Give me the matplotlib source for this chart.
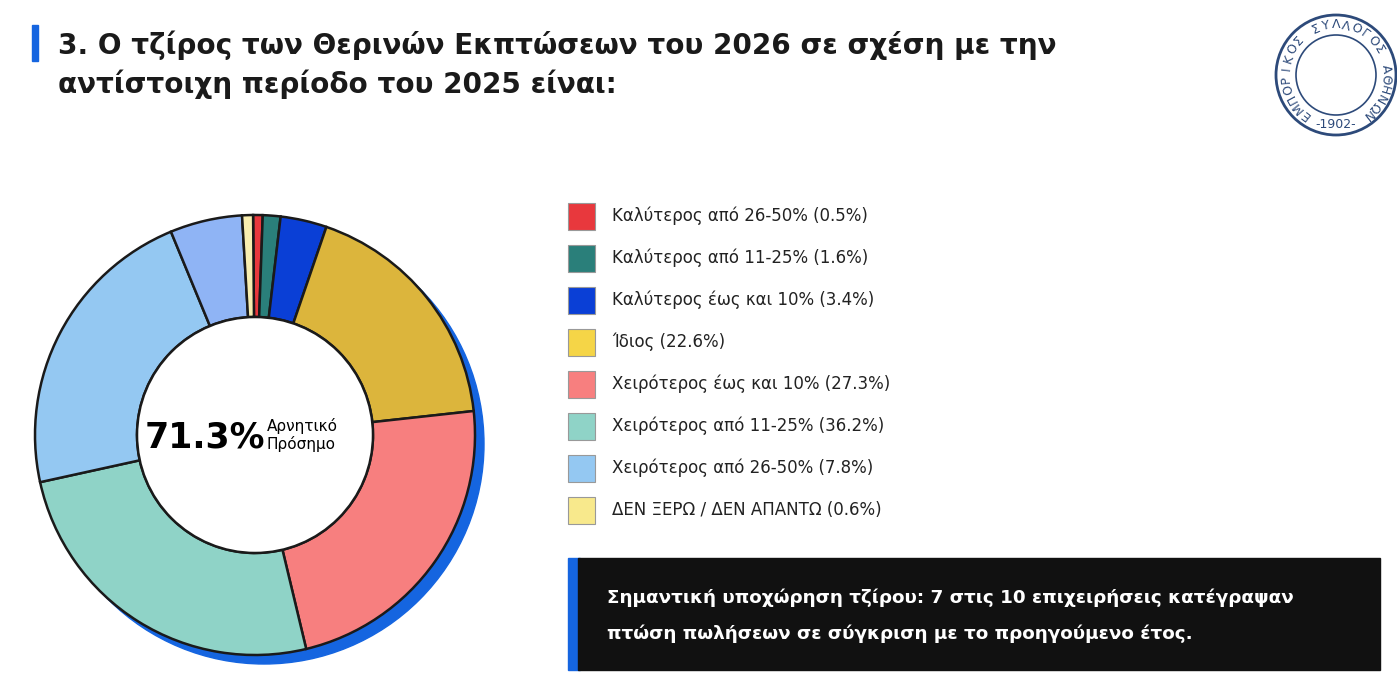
import matplotlib.pyplot as plt
from matplotlib.patches import Circle, Rectangle
import numpy as np

labels = ["Καλύτερος από 26-50%", "Καλύτερος από 11-25%", "Καλύτερος έως και 10%", "Ίδιος",
          "Χειρότερος έως και 10%", "Χειρότερος από 11-25%", "Χειρότερος από 26-50%",
          "ΔΕΝ ΞΕΡΩ / ΔΕΝ ΑΠΑΝΤΩ"]
values = [0.5, 1.6, 3.4, 22.6, 27.3, 36.2, 7.8, 0.6]
legend_colors = ["#e8383d", "#2a7f7a", "#0a3fd6", "#f5d547", "#f77f7f", "#8fd3c7", "#94c8f2", "#f8e98c"]

# slice shares as drawn in the donut of the source picture
donut_values = [0.7, 1.3, 3.4, 18.0, 23.0, 25.3, 22.2, 5.3, 0.8]
donut_colors = ["#e8383d", "#2a7f7a", "#0a3fd6", "#dcb53c", "#f77f7f", "#8fd3c7",
                "#94c8f2", "#8fb4f5", "#f8eeb0"]

W, H = 1397, 673
fig = plt.figure(figsize=(W / 100, H / 100), dpi=100)
fig.patch.set_facecolor("white")

bg = fig.add_axes([0, 0, 1, 1])
bg.set_xlim(0, W)
bg.set_ylim(H, 0)
bg.axis("off")

# title
bg.add_patch(Rectangle((32, 25), 6, 36, color="#1565e0"))
bg.text(58, 45, "3. Ο τζίρος των Θερινών Εκπτώσεων του 2026 σε σχέση με την",
        fontsize=20.1, fontweight="bold", va="center", color="#1a1a1a")
bg.text(58, 84, "αντίστοιχη περίοδο του 2025 είναι:",
        fontsize=20.1, fontweight="bold", va="center", color="#1a1a1a")

# legend
for i, (lab, v, c) in enumerate(zip(labels, values, legend_colors)):
    y = 216 + i * 42
    bg.add_patch(Rectangle((568, y - 13), 27, 27, facecolor=c, edgecolor="#999999", lw=0.8))
    bg.text(612, y, f"{lab} ({v}%)", fontsize=12, va="center", color="#222222")

# callout box
bg.add_patch(Rectangle((568, 558), 12, 112, color="#1565e0"))
bg.add_patch(Rectangle((578, 558), 802, 112, color="#111111"))
bg.text(607, 598, "Σημαντική υποχώρηση τζίρου: 7 στις 10 επιχειρήσεις κατέγραψαν",
        fontsize=13.2, fontweight="bold", color="white", va="center")
bg.text(607, 634, "πτώση πωλήσεων σε σύγκριση με το προηγούμενο έτος.",
        fontsize=13.2, fontweight="bold", color="white", va="center")

# logo
lx, ly, lr = 1336, 75, 60
bg.add_patch(Circle((lx, ly), lr, facecolor="white", edgecolor="#2d4a7a", lw=2))
bg.add_patch(Circle((lx, ly), lr - 20, facecolor="none", edgecolor="#2d4a7a", lw=1.2))
txt = "ΕΜΠΟΡΙΚΟΣ ΣΥΛΛΟΓΟΣ ΑΘΗΝΩΝ"
angs = np.linspace(232, -52, len(txt))
for ch, a in zip(txt, angs):
    r = np.deg2rad(a)
    bg.text(lx + (lr - 10) * np.cos(r), ly - (lr - 10) * np.sin(r), ch, fontsize=9,
            color="#2d4a7a", ha="center", va="center", rotation=a - 90)
bg.text(lx, ly + lr - 11, "-1902-", fontsize=9, color="#2d4a7a", ha="center", va="center")

# donut
cx, cy, R = 255, 435, 220
ax = fig.add_axes([(cx - 240) / W, 1 - (cy + 240) / H, 480 / W, 480 / H])
ax.add_patch(Circle((9, -9), R, color="#1565e0", zorder=0))
ax.pie(donut_values, colors=donut_colors, radius=R, startangle=90.5, counterclock=False,
       wedgeprops=dict(width=R - 118, edgecolor="#1a1a1a", linewidth=1.8),
       frame=True)
ax.set_xlim(-240, 240)
ax.set_ylim(-240, 240)
ax.set_aspect("equal")
ax.axis("off")
ax.add_patch(Circle((0, 0), 118, facecolor="white", edgecolor="#1a1a1a", lw=1.8, zorder=5))
ax.text(10, -2, "71.3%", fontsize=25, fontweight="bold", ha="right", va="center", zorder=6)
ax.text(12, 0, "Αρνητικό\nΠρόσημο", fontsize=11, ha="left", va="center", zorder=6,
        linespacing=1.2)

fig.savefig("out.png", dpi=100)
